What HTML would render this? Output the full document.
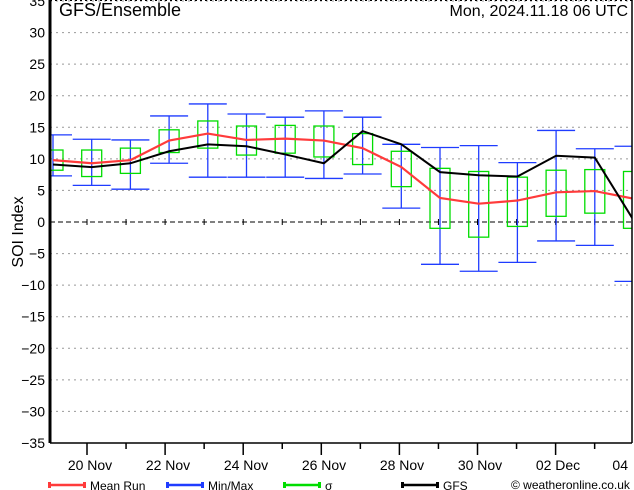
<!DOCTYPE html>
<html><head><meta charset="utf-8"><style>
body{margin:0;background:#fff;}
svg{display:block;font-family:"Liberation Sans","DejaVu Sans",sans-serif;}
</style></head><body>
<svg id="chart" width="634" height="490">
<defs><clipPath id="plotclip"><rect x="51" y="0" width="581" height="443"/></clipPath></defs>
</svg>
<script>
const categories=["18 Nov 06","19 Nov","20 Nov","21 Nov","22 Nov","23 Nov","24 Nov","25 Nov","26 Nov","27 Nov","28 Nov","29 Nov","30 Nov","01 Dec","02 Dec","03 Dec"];
const meanRun=[9.8,9.3,9.8,12.9,14.0,13.0,13.2,12.9,11.7,8.7,3.8,2.9,3.4,4.7,4.9,3.7];
const gfs=[9.1,8.7,9.3,11.2,12.3,12.0,10.7,9.3,14.4,12.3,7.9,7.4,7.2,10.5,10.2,0.3];
const minVals=[7.3,5.8,5.2,9.3,7.1,7.1,7.1,6.9,7.6,2.2,-6.7,-7.8,-6.4,-3.0,-3.7,-9.4];
const maxVals=[13.8,13.1,13.0,16.8,18.7,17.1,16.6,17.6,16.6,12.3,11.8,12.1,9.4,14.5,11.6,12.0];
const sigmaLow=[8.2,7.2,7.7,11.0,11.7,10.6,10.9,10.3,9.1,5.6,-1.0,-2.4,-0.7,0.9,1.4,-1.0];
const sigmaHigh=[11.4,11.4,11.7,14.6,16.0,15.2,15.3,15.2,14.0,11.2,8.5,8.0,7.1,8.2,8.3,8.0];
const yTicks=[35,30,25,20,15,10,5,0,-5,-10,-15,-20,-25,-30,-35];
const xLabels=["20 Nov","22 Nov","24 Nov","26 Nov","28 Nov","30 Nov","02 Dec","04"];

const svg=document.getElementById('chart');
const NS='http://www.w3.org/2000/svg';
const L=50,R=632,T=0,B=443;
const y=v=>222-v*(221/35);
const x=i=>53+i*38.7;
const dayX=k=>87+k*39;
function el(tag,attrs,parent){const e=document.createElementNS(NS,tag);for(const k in attrs)e.setAttribute(k,attrs[k]);(parent||svg).appendChild(e);return e;}

yTicks.forEach(v=>{
  if(v!==0&&v!==-35){const g=el('line',{x1:L,x2:R,y1:y(v),y2:y(v),stroke:'#999','stroke-dasharray':'2,4','stroke-width':1});
  
  }
  const t=el('text',{x:45,y:y(v)+5,'text-anchor':'end','font-size':14,fill:'#000'});
  
  
  t.textContent=v<0?'\u2212'+(-v):String(v);
});
const zl=el('line',{x1:L,x2:R,y1:y(0),y2:y(0),stroke:'#000','stroke-dasharray':'5,3','stroke-width':1});


for(let k=-1;k<15;k++){const xx=87+k*39.05;if(xx>L&&xx<R){const tk=el('line',{x1:xx,x2:xx,y1:y(0)-3,y2:y(0)+3,stroke:'#000'});

}}
el('line',{x1:L,x2:R,y1:0.5,y2:0.5,stroke:'#000','stroke-dasharray':'2,3'});

const plot=el('g',{'clip-path':'url(#plotclip)'});


categories.forEach((c,i)=>{
  const g=el('g',{stroke:'#1f3cff','stroke-width':1.3,fill:'none'},plot);
  
  
  el('line',{x1:x(i),x2:x(i),y1:y(minVals[i]),y2:y(maxVals[i])},g);
  el('line',{x1:x(i)-19,x2:x(i)+19,y1:y(minVals[i]),y2:y(minVals[i])},g);
  el('line',{x1:x(i)-19,x2:x(i)+19,y1:y(maxVals[i]),y2:y(maxVals[i])},g);
});
categories.forEach((c,i)=>{
  const b=el('rect',{x:x(i)-10,y:y(sigmaHigh[i]),width:20,height:y(sigmaLow[i])-y(sigmaHigh[i]),fill:'none',stroke:'#00dd00','stroke-width':1.3},plot);
  
  
});
const mp=el('polyline',{points:meanRun.map((v,i)=>x(i)+','+y(v)).join(' '),fill:'none',stroke:'#ff3b3b','stroke-width':2.2},plot);


const gp=el('polyline',{points:gfs.map((v,i)=>x(i)+','+y(v)).join(' '),fill:'none',stroke:'#000','stroke-width':2},plot);



el('line',{x1:L,x2:L,y1:0,y2:B,stroke:'#000','stroke-width':3});
el('line',{x1:R,x2:R,y1:0,y2:B,stroke:'#000','stroke-width':1.5});
el('line',{x1:L,x2:R,y1:B,y2:B,stroke:'#000','stroke-width':1.5});
for(let k=-1;k<15;k++){const xx=87+k*39.05;if(xx>L&&xx<=R+1){el('line',{x1:xx,x2:xx,y1:B,y2:k%2===0?455:449,stroke:'#000','stroke-width':1.5});}}
xLabels.forEach((s,k)=>{
  const last=k===xLabels.length-1;
  const t=el('text',{x:last?628:dayX(2*k)+3,y:470,'text-anchor':last?'end':'middle','font-size':14});
  
  
  t.textContent=s;
});
const tt=el('text',{x:59,y:16,'font-size':18});tt.textContent='GFS/Ensemble';


const dt=el('text',{x:628,y:16,'font-size':16,'text-anchor':'end'});dt.textContent='Mon, 2024.11.18  06 UTC';


dt.setAttribute('xml:space','preserve');
const yt=el('text',{transform:'translate(23,232) rotate(-90)','font-size':16,'text-anchor':'middle'});yt.textContent='SOI Index';


[['#ff3b3b','Mean Run',49],['#1f3cff','Min/Max',167],['#00dd00','σ',284],['#000','GFS',402]].forEach(([c,s,lx])=>{
  const g=el('g',{});
  
  
  el('line',{x1:lx,x2:lx+36,y1:485,y2:485,stroke:c,'stroke-width':2.5},g);
  el('rect',{x:lx-1,y:482,width:3,height:6,fill:c},g);
  el('rect',{x:lx+34,y:482,width:3,height:6,fill:c},g);
  const t=el('text',{x:lx+41,y:490,'font-size':12},g);t.textContent=s;
});
const cp=el('text',{x:511,y:489,'font-size':12});cp.textContent='© weatheronline.co.uk';


</script>
</body></html>
